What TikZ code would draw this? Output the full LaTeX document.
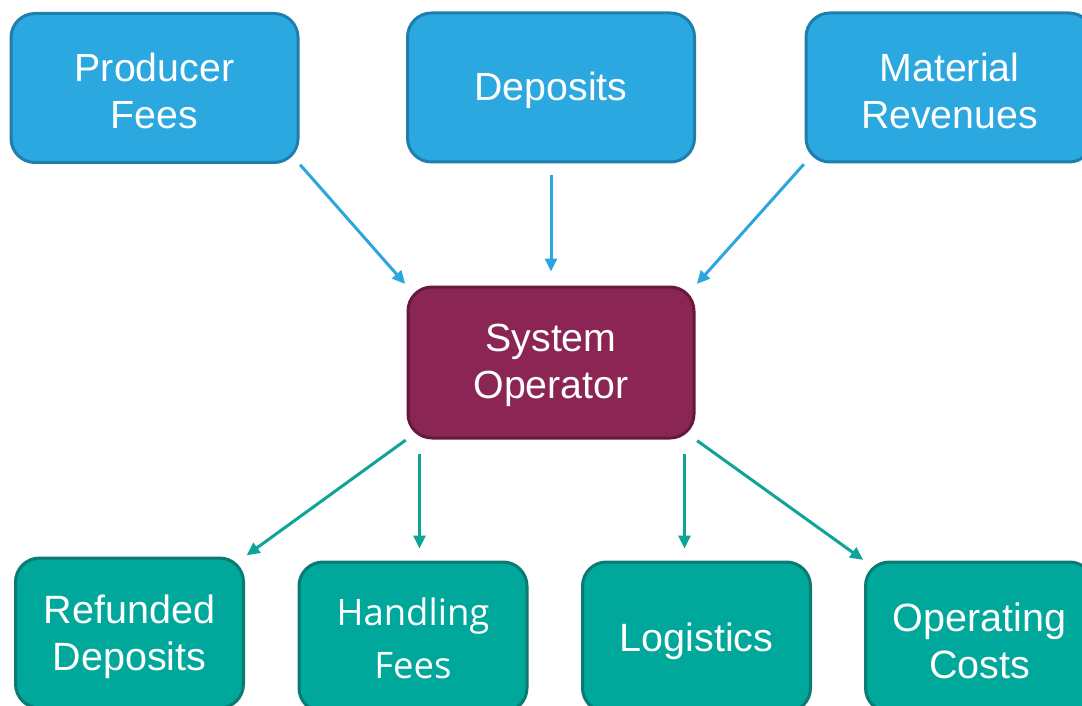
\documentclass[tikz,border=0pt]{standalone}
\usepackage{fontspec}
\setmainfont{Liberation Sans}
\newfontfamily\handfont{Open Sans}
\usetikzlibrary{arrows.meta}
\definecolor{bluefill}{HTML}{2CA8E0}
\definecolor{blueline}{HTML}{1E7EAE}
\definecolor{purpfill}{HTML}{8B2553}
\definecolor{purpline}{HTML}{651A3C}
\definecolor{tealfill}{HTML}{00A79B}
\definecolor{tealline}{HTML}{0B7A72}
\definecolor{bluearrow}{HTML}{2DA6DE}
\definecolor{tealarrow}{HTML}{0FA499}
\tikzset{
  box/.style={rectangle, rounded corners=24pt, line width=3pt, inner sep=0pt},
  txt/.style={text=white, align=center, inner sep=0pt, yshift=-3pt, font=\fontsize{39.3}{47}\selectfont},
  bottxt/.style={txt, yshift=-1pt, font=\fontsize{39.5}{47}\selectfont},
  handtxt/.style={txt, yshift=2pt, font=\handfont\fontsize{36.5}{53}\selectfont},
  topbox/.style={box, fill=bluefill, draw=blueline, minimum width=287pt, minimum height=149pt},
  opbox/.style={box, fill=purpfill, draw=purpline, minimum width=286pt, minimum height=151pt},
  botbox/.style={box, fill=tealfill, draw=tealline, minimum width=228pt, minimum height=150pt},
  inarrow/.style={draw=bluearrow, line width=3pt, -{Triangle[length=13pt,width=12pt]}},
  outarrow/.style={draw=tealarrow, line width=3pt, -{Triangle[length=13pt,width=12pt]}}
}
\begin{document}
\begin{tikzpicture}[x=1pt,y=-1pt]
\useasboundingbox (0,0) rectangle (1082,706);
\clip (0,0) rectangle (1082,706);
\fill[white] (0,0) rectangle (1082,706);

\node[topbox, label={[txt]center:Producer\\Fees}] (prod) at (154.5,88) {};
\node[topbox, label={[txt]center:Deposits}] (dep) at (551,87.5) {};
\node[topbox, label={[txt]center:Material\\Revenues}] (mat) at (949.5,87.5) {};
\node[opbox, label={[txt]center:System\\Operator}] (op) at (551,362.5) {};

\node[botbox, label={[bottxt]center:Refunded\\Deposits}] (ref) at (129.5,633) {};
\node[botbox, label={[handtxt]center:Handling\\Fees}] (hand) at (413,637) {};
\node[botbox, label={[bottxt]center:Logistics}] (log) at (696.5,637) {};
\node[botbox, label={[bottxt]center:Operating\\Costs}] (ops) at (979.5,637) {};

\draw[inarrow, shorten <=1pt, shorten >=2pt] (prod.south east) -- (op.north west);
\draw[inarrow, shorten <=12pt, shorten >=14pt] (dep.south) -- (op.north);
\draw[inarrow, shorten <=1pt, shorten >=2pt] (mat.south west) -- (op.north east);

\draw[outarrow, shorten <=1pt, shorten >=2pt] (op.south west) -- (ref.north east);
\draw[outarrow, shorten <=14pt, shorten >=12pt] ([xshift=13pt]op.south west) -- ([xshift=13pt]op.south west |- hand.north);
\draw[outarrow, shorten <=14pt, shorten >=12pt] ([xshift=-11pt]op.south east) -- ([xshift=-11pt]op.south east |- log.north);
\draw[outarrow, shorten <=2pt, shorten >=1pt] (op.south east) -- (ops.north west);
\end{tikzpicture}
\end{document}
